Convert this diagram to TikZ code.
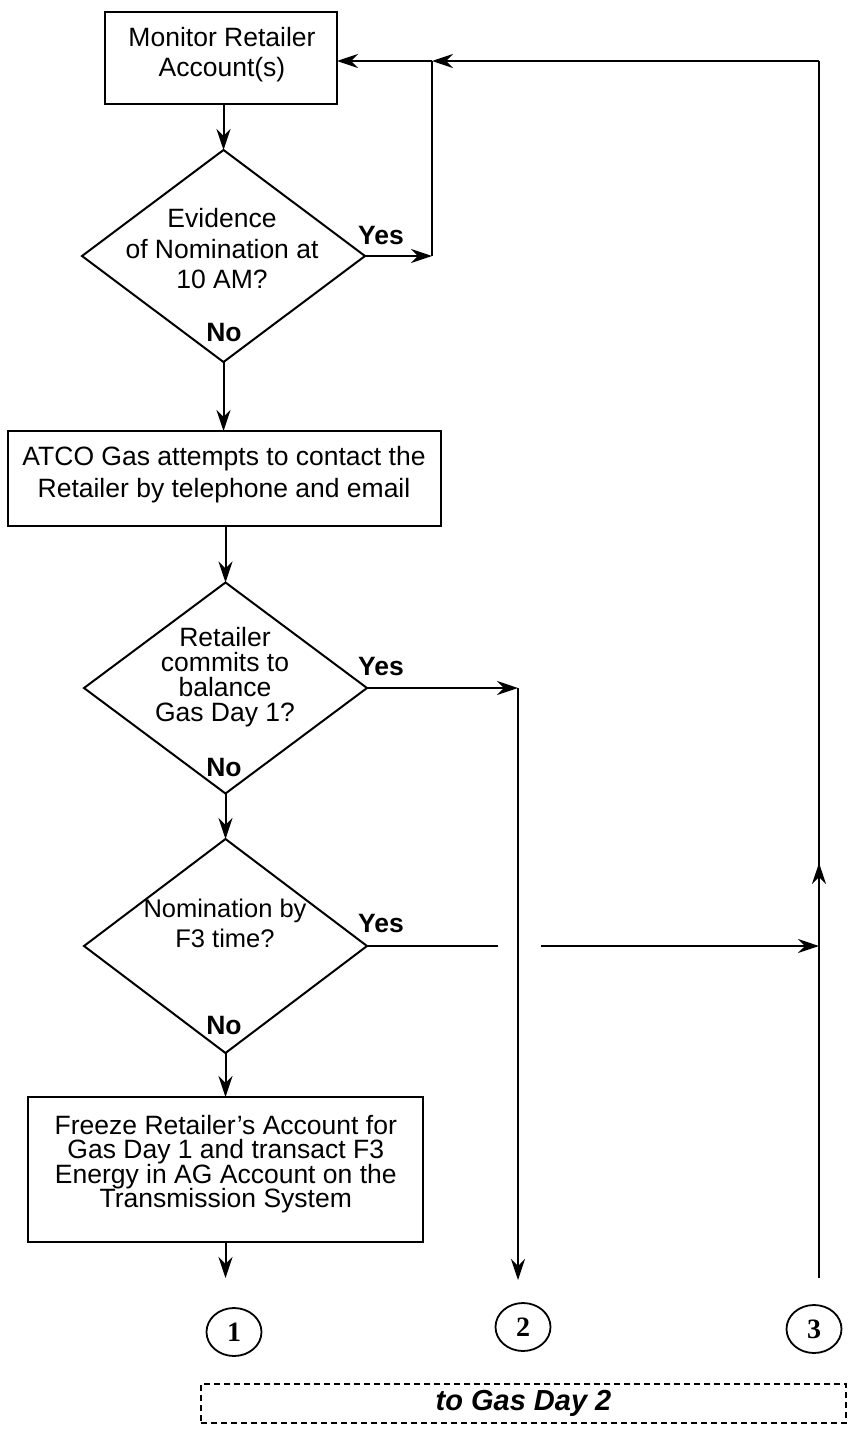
\documentclass[tikz,border=0pt]{standalone}
\usepackage{fontspec}
\setmainfont{Liberation Sans}
\newfontfamily\numfont{Liberation Serif}
\usetikzlibrary{arrows.meta,shapes.geometric}
\begin{document}
\begin{tikzpicture}[x=1pt,y=-1pt,
  ln/.style={line width=2pt},
  arr/.style={ln,-{Stealth[length=21pt,width=14pt,inset=7pt]}},
  boxnode/.style={draw,rectangle,line width=2pt,inner sep=0pt,outer sep=0pt},
  dia/.style={draw,diamond,line width=2pt,inner sep=0pt,outer sep=0pt},
  txt/.style={inner sep=0pt,outer sep=0pt,align=center},
  lab/.style={inner sep=0pt,font={\bfseries\fontsize{26.5}{30}\selectfont}},
  circ/.style={draw,ellipse,line width=1.8pt,minimum width=55pt,minimum height=48pt,inner sep=0pt,font={\numfont\bfseries\fontsize{28}{30}\selectfont}},
  dashbox/.style={draw,rectangle,line width=1.3pt,dash pattern=on 6pt off 4pt,inner sep=0pt,font={\bfseries\itshape\fontsize{29}{30}\selectfont}}
]
\useasboundingbox (0,0) rectangle (849,1437);

% shapes
\node[boxnode,minimum width=232pt,minimum height=92pt] (b1) at (221,58) {};
\node[txt,font={\fontsize{26.5}{30}\selectfont\lineskiplimit=-100pt}] (b1t) at (222,55) {Monitor Retailer\\Account(s)};

\node[dia,minimum width=283pt,minimum height=212pt] (d1) at (223.5,256) {};
\node[txt,font={\fontsize{26.5}{30.5}\selectfont\lineskiplimit=-100pt}] (d1t) at (222,249) {Evidence\\of Nomination at\\10 AM?};
\node[lab] (y1) at (381,236) {Yes};
\node[lab] (n1) at (224,333) {No};

\node[boxnode,minimum width=433pt,minimum height=95pt] (b2) at (224.5,478.5) {};
\node[txt,font={\fontsize{26.5}{32.3}\selectfont\lineskiplimit=-100pt}] (b2t) at (224,474.5) {ATCO Gas attempts to contact the\\Retailer by telephone and email};

\node[dia,minimum width=283pt,minimum height=211pt] (d2) at (225.5,688) {};
\node[txt,font={\fontsize{26.5}{25}\selectfont\lineskiplimit=-100pt}] (d2t) at (225,677) {Retailer\\commits to\\balance\\Gas Day 1?};
\node[lab] (y2) at (381,667) {Yes};
\node[lab] (n2) at (224,768) {No};

\node[dia,minimum width=283pt,minimum height=214pt] (d3) at (225.5,946) {};
\node[txt,font={\fontsize{25.5}{30}\selectfont\lineskiplimit=-100pt}] (d3t) at (225,923) {Nomination by\\F3 time?};
\node[lab] (y3) at (381,924) {Yes};
\node[lab] (n3) at (224,1025) {No};

\node[boxnode,minimum width=395pt,minimum height=145pt] (b4) at (225.5,1169.5) {};
\node[txt,font={\fontsize{26.5}{24.5}\selectfont\lineskiplimit=-100pt}] (b4t) at (225.8,1164) {Freeze Retailer’s Account for\\Gas Day 1 and transact F3\\Energy in AG Account on the\\Transmission System};

\node[circ] (c1) at (234,1332) {1};
\node[circ] (c2) at (523,1327) {2};
\node[circ] (c3) at (814,1329) {3};

\node[dashbox,minimum width=645pt,minimum height=39pt] (g2) at (523.5,1403.5) {to Gas Day 2};

% coordinates
\coordinate (j1) at (432,256);
\coordinate (j1top) at (432,61);
\coordinate (rtop) at (819,61);
\coordinate (rmid) at (819,863);
\coordinate (rbot) at (819,1278);
\coordinate (j2) at (518,688);
\coordinate (j2bot) at (518,1280);
\coordinate (g3a) at (498,946);
\coordinate (g3b) at (541,946);
\coordinate (r3) at (819,946);
\coordinate (o4) at (225.5,1278);

% connectors
\draw[arr] (b1.south -| d1.north) -- (d1.north);
\draw[arr] (d1.south) -- (d1.south |- b2.north);
\draw[arr] (b2.south -| d2.north) -- (d2.north);
\draw[arr] (d2.south) -- (d3.north);
\draw[arr] (d3.south) -- (d3.south |- b4.north);
\draw[arr] (b4.south) -- (o4);

\draw[arr] (d1.east) -- (j1);
\draw[ln] (j1) -- (j1top);
\draw[arr] (j1top) -- (j1top -| b1.east);
\draw[arr] (rtop) -- (j1top);
\draw[ln] (rbot) -- (rtop);
\draw[arr] (rbot) -- (rmid);

\draw[arr] (d2.east) -- (j2);
\draw[arr] (j2) -- (j2bot);

\draw[ln] (d3.east) -- (g3a);
\draw[arr] (g3b) -- (r3);
\end{tikzpicture}
\end{document}
